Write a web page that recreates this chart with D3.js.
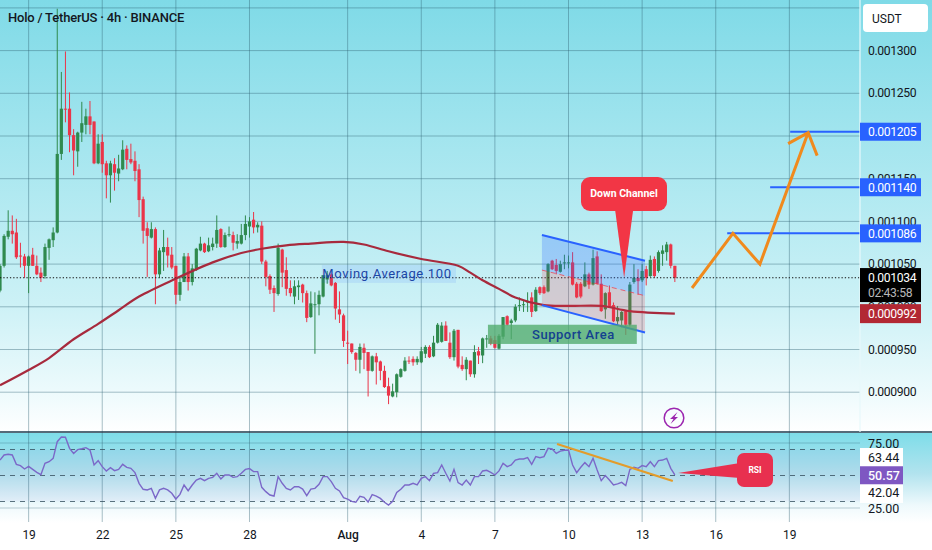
<!DOCTYPE html>
<html>
<head>
<meta charset="utf-8">
<title>Holo / TetherUS</title>
<script src="https://cdnjs.cloudflare.com/ajax/libs/d3/7.8.5/d3.min.js"></script>
<style>
  html, body { margin: 0; padding: 0; background: #fff; overflow: hidden; }
  svg { display: block; font-family: Roboto, sans-serif; }
  text { fill: #131722; }
</style>
</head>
<body>
<svg id="chart" width="932" height="550"></svg>
<script>
// prices are in millionths of USDT, 1034 = 0.001034
const opens = [1019,1048,1082,1089,1087,1060,1059,1048,1061,1048,1040,1036,1069,1078,1087,1179,1232,1232,1201,1182,1204,1213,1223,1217,1168,1193,1168,1154,1167,1156,1161,1185,1173,1171,1161,1126,1092,1081,1091,1038,1064,1070,1061,1048,1014,1029,1059,1029,1043,1066,1074,1065,1070,1074,1091,1070,1084,1084,1074,1074,1084,1094,1102,1093,1095,1053,1036,1022,1015,1067,1043,1022,1012,1023,1026,1016,988,1002,1003,1012,1032,1038,1028,997,990,958,957,946,938,952,947,925,942,936,925,907,895,900,918,925,937,939,935,935,945,953,942,958,959,978,958,941,973,932,927,937,921,948,943,962,963,961,951,965,989,981,984,1001,1002,1005,1011,995,1023,1023,1018,1054,1049,1041,1051,1051,1052,1027,1027,1024,1038,1026,1059,1027,997,1017,1002,983,984,995,979,1029,1034,1031,1044,1036,1056,1042,1062,1064,1073,1048];
const highs = [1050,1085,1113,1107,1103,1075,1062,1060,1069,1060,1046,1074,1080,1093,1349,1275,1299,1251,1208,1205,1240,1232,1241,1217,1202,1202,1171,1171,1174,1178,1195,1189,1191,1182,1167,1129,1099,1099,1093,1069,1090,1081,1070,1048,1036,1063,1063,1050,1069,1082,1075,1081,1081,1107,1092,1087,1094,1088,1085,1097,1107,1105,1111,1099,1100,1055,1038,1025,1074,1068,1058,1031,1031,1031,1027,1019,1018,1017,1019,1037,1042,1040,1029,1018,992,972,957,947,957,957,947,943,946,937,931,917,910,922,928,941,942,942,942,953,955,955,966,981,982,983,970,974,973,942,941,937,955,953,964,967,966,966,968,988,990,986,1003,1011,1007,1017,1017,1023,1024,1025,1051,1055,1056,1054,1061,1060,1064,1029,1029,1052,1040,1067,1065,1038,1017,1025,1005,1001,995,995,1029,1050,1044,1050,1048,1060,1059,1066,1072,1076,1074,1048];
const lows = [1017,1046,1079,1074,1056,1046,1034,1016,1048,1037,1029,1033,1055,1070,1086,1172,1216,1181,1154,1164,1193,1202,1202,1167,1167,1157,1127,1122,1136,1147,1160,1161,1167,1147,1105,1074,1035,1080,1003,1034,1042,1046,1044,1003,1007,1029,1019,1025,1042,1065,1063,1064,1066,1069,1069,1069,1082,1066,1068,1073,1078,1081,1086,1087,1050,1024,1015,994,1013,1023,1013,1012,1003,1008,1005,982,987,945,990,1011,1027,1024,985,981,953,933,945,925,922,927,895,924,909,914,905,886,894,894,917,924,933,931,932,934,940,940,941,957,958,960,939,937,928,925,914,918,917,933,934,952,955,951,950,962,978,962,982,995,994,994,988,994,1014,1015,1017,1043,1038,1040,1044,1045,1025,1010,1010,1023,1021,1025,1026,994,986,1000,982,979,976,967,977,1027,1014,1029,1025,1035,1034,1040,1048,1054,1045,1029];
const closes = [1048,1083,1089,1085,1058,1059,1048,1059,1048,1038,1034,1070,1079,1087,1179,1232,1231,1201,1183,1204,1215,1223,1213,1168,1191,1167,1154,1168,1157,1162,1184,1172,1169,1159,1125,1089,1083,1091,1038,1066,1070,1060,1046,1014,1029,1059,1029,1045,1068,1074,1064,1072,1074,1090,1070,1084,1085,1075,1077,1084,1097,1100,1093,1096,1053,1035,1020,1016,1069,1040,1021,1016,1024,1025,1016,987,1004,1003,1014,1037,1037,1025,998,991,960,957,947,938,953,946,925,942,935,925,906,896,901,921,927,937,936,935,939,948,953,941,958,979,978,960,941,972,930,927,938,921,947,943,963,963,957,952,966,988,979,984,1000,1002,1003,1007,994,1020,1016,1016,1050,1044,1042,1050,1052,1052,1026,1011,1012,1038,1026,1057,1027,995,1016,1001,983,988,994,979,1026,1034,1030,1042,1034,1055,1036,1064,1066,1073,1048,1034];

const maCandles = [0,7,12,18,24,29,34,43,52,59,64,70,76,84,89,95,103,112,115,118,122,126,133,139,147,154,165];
const maValues = [908,926,940,962,980,996,1012,1033,1052,1063,1068,1072,1074,1076,1073,1065,1056,1048,1040,1031,1021,1011,1002,1001,1001,995,992];

const rsiValues = [61.9,65.8,66.3,65.8,58.6,57.6,55,57,54.7,52.4,50.6,59.4,60.6,63.2,76,79.6,79.4,70.9,67,69.9,70.6,71.4,69.6,58.1,61.4,56.8,53.5,56,53.7,54.7,58.6,56.3,55.5,52.2,44,39.4,38.9,40.1,32.4,38.9,40.1,38.9,36.3,31.9,35.5,42.7,38.3,42.7,46.5,47.8,46,47.8,48.6,51.7,47.3,50.4,50.4,48.6,49.1,51.7,54.7,55.3,53,53,40.9,37.6,35,34.2,49.1,44,40.1,38.9,41.4,41.4,39.6,34.5,39.6,40.1,43.2,49.1,49.1,45.3,40.1,38.1,33,31.9,30.1,29.4,34,33.2,29.6,35.3,34.2,32.4,29.4,27.3,30.1,37,39.4,42.7,42.7,44,42.7,47.8,49.1,46,51.7,52.2,58.1,51.7,45.8,54.7,44.5,42.7,46.5,42.7,49.1,49.1,53.5,54,52.4,50.4,53.5,59.4,56.8,58.1,61.9,62.7,62.7,63.7,58.6,64.5,63.7,64.5,70.9,70.4,67,68.8,69.4,69.6,58.1,52.2,56.3,59.9,56.8,63.2,54.2,46,49.9,46.5,42.7,43.5,44.7,42.2,54.7,56.3,55.5,57.6,56.8,60.6,56.8,61.4,61.9,63.2,55.5,50.57];

const dayTicks = [[6,19],[6,22],[6,25],[6,28],[7,1],[7,4],[7,7],[7,10],[7,13],[7,16],[7,19]];
const dayLabels = ['19','22','25','28','Aug','4','7','10','13','16','19'];
const priceTicks = [1300,1250,1200,1150,1100,1050,1000,950,900];
const rsiLevels = [70,50,30];
const rsiScaleLabels = [75,25];

const targetLevels = [1205,1140,1086];
const targetStarts = [193.2,188.3,177.8];
const lastPrice = 1034;
const lastMa = 992;
const lastRsi = 50.57;
const rsiUpper = 63.44;
const rsiLower = 42.04;

const pathCandles = [169.2,179.2,185.8,197.6];
const pathPrices = [1022,1086,1050,1204];
const arrowCandles = [192.7,197.6,199.8];
const arrowPrices = [1191,1204,1177];

const channelCandles = [132.5,157.7];
const channelUpper = [1084,1054];
const channelMiddle = [1043,1013];
const channelLower = [1002,970];

const supportCandles = [119.3,155.7];
const supportPrices = [979,956.5];
const maNoteCandles = [78.7,111.5];
const maNotePrices = [1049,1028];
const rsiTrendCandles = [136.2,164.5];
const rsiTrendValues = [74.2,45.8];

const width = 932, height = 550, plotRight = 860;
const fourHours = 4 * 3600 * 1000;
const startTime = Date.UTC(2023, 6, 17, 20);
const at = i => new Date(startTime + i * fourHours);
const ticks = dayTicks.map(d => new Date(Date.UTC(2023, d[0], d[1])));

const x = d3.scaleUtc().domain([at(0), at(210.27)]).range([0, plotRight]);
const y = d3.scaleLinear().domain([1300, 900]).range([50.6, 392.2]);
const r = d3.scaleLinear().domain([75, 25]).range([443, 508]);
const priceLabel = d3.format('.6f');
const fmtPrice = v => priceLabel(v / 1e6);

const svg = d3.select('#chart');
const defs = svg.append('defs');

function addGradient(id, stops) {
  const g = defs.append('linearGradient').attr('id', id).attr('x1', 0).attr('x2', 0).attr('y1', 0).attr('y2', 1);
  stops.forEach(s => g.append('stop').attr('offset', s[0]).attr('stop-color', s[1]));
}
addGradient('mainBg', [[0, '#7fdae7'], [0.35, '#a6e6ef'], [0.7, '#ccf1f6'], [0.9, '#ecfafc'], [1, '#ffffff']]);
addGradient('rsiBg', [[0, '#7edde9'], [0.45, '#b2e3ee'], [0.8, '#eef9fc'], [1, '#ffffff']]);

svg.append('rect').attr('width', width).attr('height', 433).attr('fill', 'url(#mainBg)');
svg.append('rect').attr('y', 433).attr('width', width).attr('height', 90).attr('fill', 'url(#rsiBg)');
svg.append('rect').attr('y', 523).attr('width', width).attr('height', 27).attr('fill', '#fff');

// grid
const grid = svg.append('g');
grid.selectAll('.h').data(priceTicks.concat([1350])).join('line')
  .attr('x1', 0).attr('x2', plotRight)
  .attr('y1', d => y(d)).attr('y2', d => y(d))
  .attr('stroke', '#2c5f70').attr('stroke-opacity', 0.4).attr('stroke-width', 1);
grid.selectAll('.v').data(ticks).join('line')
  .attr('x1', d => x(d)).attr('x2', d => x(d))
  .attr('y1', 0).attr('y2', 522)
  .attr('stroke', '#2c5f70').attr('stroke-opacity', 0.4).attr('stroke-width', 1);

// candles
const candles = opens.map((o, i) => ({ i, o, h: highs[i], l: lows[i], c: closes[i] }));
const candleColor = d => d.c >= d.o ? '#2f8a4e' : '#ea3549';
const candleG = svg.append('g');
candleG.selectAll('line').data(candles).join('line')
  .attr('x1', d => x(at(d.i))).attr('x2', d => x(at(d.i)))
  .attr('y1', d => y(d.h)).attr('y2', d => y(d.l))
  .attr('stroke', candleColor).attr('stroke-width', 1);
candleG.selectAll('rect').data(candles).join('rect')
  .attr('x', d => x(at(d.i)) - 1.6).attr('width', 3.2)
  .attr('y', d => y(Math.max(d.o, d.c)))
  .attr('height', d => Math.max(1, Math.abs(y(d.o) - y(d.c))))
  .attr('fill', candleColor);

// last price
svg.append('line').attr('x1', 0).attr('x2', plotRight)
  .attr('y1', y(lastPrice)).attr('y2', y(lastPrice))
  .attr('stroke', '#111').attr('stroke-width', 1.2).attr('stroke-dasharray', '1.3 2');

// moving average
const maLine = d3.line().x((d, i) => x(at(maCandles[i]))).y(d => y(d)).curve(d3.curveCatmullRom);
svg.append('path').attr('d', maLine(maValues)).attr('fill', 'none')
  .attr('stroke', '#a72a3d').attr('stroke-width', 2.2);

// down channel
const area = (top, bottom, fill) => svg.append('path')
  .attr('d', d3.area().x((d, i) => x(at(channelCandles[i]))).y0((d, i) => y(bottom[i])).y1((d, i) => y(top[i]))(channelCandles))
  .attr('fill', fill);
area(channelUpper, channelMiddle, 'rgba(41,98,255,0.25)');
area(channelMiddle, channelLower, 'rgba(242,54,69,0.2)');
const channelLine = d3.line().x((d, i) => x(at(channelCandles[i]))).y(d => y(d));
svg.append('path').attr('d', channelLine(channelUpper)).attr('fill', 'none').attr('stroke', '#2962ff').attr('stroke-width', 2);
svg.append('path').attr('d', channelLine(channelLower)).attr('fill', 'none').attr('stroke', '#2962ff').attr('stroke-width', 2);
svg.append('path').attr('d', channelLine(channelMiddle)).attr('fill', 'none').attr('stroke', '#f23645').attr('stroke-opacity', 0.7).attr('stroke-dasharray', '5 4');

// support area
const supportX = x(at(supportCandles[0])), supportY = y(supportPrices[0]);
const supportW = x(at(supportCandles[1])) - supportX, supportH = y(supportPrices[1]) - supportY;
svg.append('rect').attr('x', supportX).attr('y', supportY).attr('width', supportW).attr('height', supportH)
  .attr('fill', '#4fab6c').attr('fill-opacity', 0.78);
svg.append('text').attr('x', supportX + supportW / 2 + 11).attr('y', supportY + supportH / 2 + 4.5)
  .attr('text-anchor', 'middle').attr('font-size', 13).attr('font-weight', 500)
  .style('fill', '#14418f').style('letter-spacing', '0.5px').text('Support Area');

// moving average note
const noteX = x(at(maNoteCandles[0])), noteY = y(maNotePrices[0]);
const noteW = x(at(maNoteCandles[1])) - noteX, noteH = y(maNotePrices[1]) - noteY;
svg.append('rect').attr('x', noteX).attr('y', noteY).attr('width', noteW).attr('height', noteH)
  .attr('fill', 'rgba(41,98,255,0.1)');
svg.append('text').attr('x', noteX + noteW / 2 - 2).attr('y', noteY + noteH / 2 + 4.5)
  .attr('text-anchor', 'middle').attr('font-size', 13)
  .style('fill', '#1c46a6').style('letter-spacing', '0.65px').text('Moving Average 100');

// targets
targetLevels.forEach((level, i) => {
  svg.append('line').attr('x1', x(at(targetStarts[i]))).attr('x2', plotRight)
    .attr('y1', y(level)).attr('y2', y(level))
    .attr('stroke', '#2962ff').attr('stroke-width', 2);
});

// projected path
const projLine = (cs, ps) => d3.line().x((d, i) => x(at(cs[i]))).y(d => y(d))(ps);
svg.append('path').attr('d', projLine(pathCandles, pathPrices)).attr('fill', 'none')
  .attr('stroke', '#f08a1d').attr('stroke-width', 3);
svg.append('path').attr('d', projLine(arrowCandles, arrowPrices)).attr('fill', 'none')
  .attr('stroke', '#f08a1d').attr('stroke-width', 3);

// down channel callout
const tipX = x(at(152.6)), tipY = y(lastPrice);
svg.append('path')
  .attr('d', `M${tipX - 9},210 L${tipX},${tipY} L${tipX + 9},210 Z`)
  .attr('fill', '#f23645');
svg.append('rect').attr('x', 581).attr('y', 177).attr('width', 86).attr('height', 34).attr('rx', 9)
  .attr('fill', '#f23645');
svg.append('text').attr('x', 624).attr('y', 197).attr('text-anchor', 'middle')
  .attr('font-size', 10.5).attr('font-weight', 700).style('fill', '#fff').text('Down Channel');

// bolt icon
const bolt = svg.append('g').attr('transform', 'translate(674,418)');
bolt.append('circle').attr('r', 9.8).attr('fill', 'none').attr('stroke', '#9c27b0').attr('stroke-width', 1.5);
bolt.append('path').attr('d', 'M3.5,-6 L-4,1 L-0.5,1 L-3.5,6 L4,-1 L0.5,-1 Z').attr('fill', '#9c27b0');

// rsi panel
svg.append('rect').attr('x', 0).attr('width', plotRight)
  .attr('y', r(70)).attr('height', r(30) - r(70)).attr('fill', 'rgba(126,87,194,0.05)');
svg.append('line').attr('x1', 0).attr('x2', width).attr('y1', 432).attr('y2', 432)
  .attr('stroke', '#1d3a4c').attr('stroke-width', 1.5);
svg.selectAll('.rsi-solid').data(rsiScaleLabels).join('line')
  .attr('x1', 0).attr('x2', plotRight).attr('y1', d => r(d)).attr('y2', d => r(d))
  .attr('stroke', '#2c5f70').attr('stroke-opacity', 0.3);
svg.selectAll('.rsi-band').data(rsiLevels).join('line')
  .attr('x1', 0).attr('x2', plotRight).attr('y1', d => r(d)).attr('y2', d => r(d))
  .attr('stroke', '#36505f').attr('stroke-opacity', 0.8).attr('stroke-dasharray', '5 5');

const rsiLine = d3.line().x((d, i) => x(at(i))).y(d => r(d));
svg.append('path').attr('d', rsiLine(rsiValues)).attr('fill', 'none')
  .attr('stroke', '#7b68c8').attr('stroke-width', 1.4);
svg.append('path')
  .attr('d', d3.line().x((d, i) => x(at(rsiTrendCandles[i]))).y(d => r(d))(rsiTrendValues))
  .attr('fill', 'none').attr('stroke', '#e39c2b').attr('stroke-width', 2.2);

// rsi callout
const rsiTipX = x(at(165.8)), rsiTipY = r(52);
svg.append('path').attr('d', `M${rsiTipX},${rsiTipY} L740,463 L740,478 Z`).attr('fill', '#e8304f');
svg.append('rect').attr('x', 737).attr('y', 453).attr('width', 36).attr('height', 34).attr('rx', 7).attr('fill', '#e8304f');
svg.append('text').attr('x', 755).attr('y', 472.5).attr('text-anchor', 'middle')
  .attr('font-size', 8.5).attr('font-weight', 700).style('fill', '#fff').text('RSI');

// time axis
const xAxis = d3.axisBottom(x).tickValues(ticks).tickFormat((d, i) => dayLabels[i]).tickSize(0);
const xg = svg.append('g').attr('transform', 'translate(0,522)').call(xAxis);
xg.select('.domain').remove();
xg.selectAll('text').attr('y', 8).attr('font-size', 12).attr('font-family', 'Roboto, sans-serif')
  .attr('font-weight', (d, i) => dayLabels[i] === 'Aug' ? 500 : 400);

// price axis
svg.append('line').attr('x1', plotRight).attr('x2', plotRight).attr('y1', 0).attr('y2', 432)
  .attr('stroke', '#e8f8fb').attr('stroke-width', 1.2);
const yAxis = d3.axisRight(y).tickValues(priceTicks).tickFormat(fmtPrice).tickSize(0).tickPadding(0);
const yg = svg.append('g').attr('transform', 'translate(868,0)').call(yAxis);
yg.select('.domain').remove();
yg.selectAll('text').attr('font-size', 12.2).attr('font-family', 'Roboto, sans-serif').attr('dy', '0.3em')
  .style('letter-spacing', '-0.35px');

const usdt = svg.append('g');
usdt.append('rect').attr('x', 863).attr('y', 4).attr('width', 65).attr('height', 28).attr('rx', 4).attr('fill', '#fff');
usdt.append('text').attr('x', 872).attr('y', 22.5).attr('font-size', 12).text('USDT');

function priceTag(value, fill, h) {
  const cy = y(value);
  svg.append('rect').attr('x', plotRight).attr('y', cy - h / 2).attr('width', 61).attr('height', h).attr('fill', fill);
  svg.append('text').attr('x', 868).attr('y', cy + 4.3).attr('font-size', 12.2)
    .style('fill', '#fff').style('letter-spacing', '-0.35px').text(fmtPrice(value));
}
targetLevels.forEach(level => priceTag(level, '#2962ff', 18));

const lastY = y(lastPrice);
svg.append('rect').attr('x', plotRight).attr('y', lastY - 9.7).attr('width', 61).attr('height', 34).attr('fill', '#000');
svg.append('text').attr('x', 868).attr('y', lastY + 4.3).attr('font-size', 12.2)
  .style('fill', '#fff').style('letter-spacing', '-0.35px').text(fmtPrice(lastPrice));
svg.append('text').attr('x', 868).attr('y', lastY + 19).attr('font-size', 12.2)
  .style('fill', '#b8b8b8').style('letter-spacing', '-0.35px').text('02:43:58');
priceTag(lastMa, '#b22833', 19);

// rsi scale, 42.04 sits pushed down under the current value tag
const rsiFmt = d3.format('.2f');
svg.append('rect').attr('x', plotRight).attr('y', 448).attr('width', 43).attr('height', 55).attr('fill', '#fff');
rsiScaleLabels.forEach(v => {
  svg.append('text').attr('x', 868).attr('y', r(v) + 4.5).attr('font-size', 12.5).text(rsiFmt(v));
});
svg.append('text').attr('x', 868).attr('y', r(rsiUpper) + 3.5).attr('font-size', 12.5).text(rsiFmt(rsiUpper));
svg.append('text').attr('x', 868).attr('y', r(rsiLower) + 11.5).attr('font-size', 12.5).text(rsiFmt(rsiLower));
svg.append('rect').attr('x', plotRight).attr('y', r(lastRsi) - 8.5).attr('width', 43).attr('height', 18).attr('fill', '#7e57c2');
svg.append('text').attr('x', 868).attr('y', r(lastRsi) + 5).attr('font-size', 12.5).attr('font-weight', 500)
  .style('fill', '#fff').text(rsiFmt(lastRsi));

// title
svg.append('text').attr('x', 8).attr('y', 22).attr('font-size', 13).attr('font-weight', 500)
  .style('letter-spacing', '-0.2px').text('Holo / TetherUS · 4h · BINANCE');
</script>
</body>
</html>
